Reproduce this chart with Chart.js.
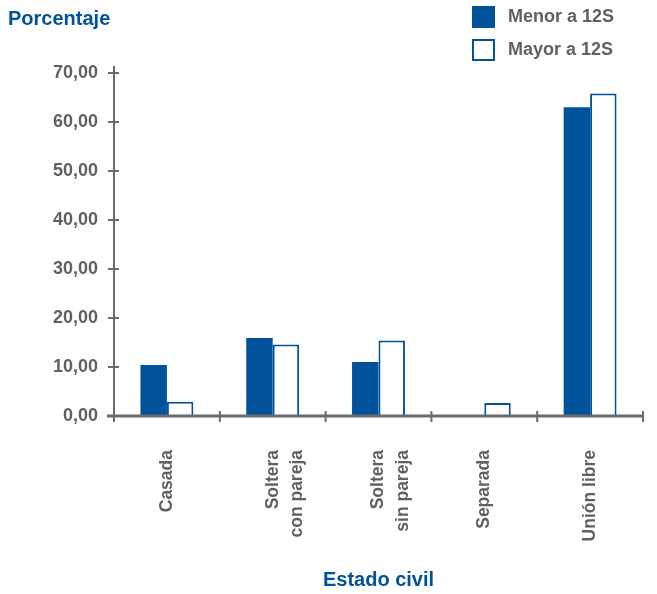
<!DOCTYPE html>
<html lang="es">
<head>
  <meta charset="UTF-8">
  <title>Estado civil</title>
  <script src="https://cdn.jsdelivr.net/npm/chart.js"></script>
  <style>
    body { margin: 0; background: #fff; }
    #wrap { position: relative; width: 657px; height: 594px; }
    #legend { position: absolute; left: 472px; top: 5px; font: bold 18px "Liberation Sans", Arial, sans-serif; color: #606060; }
    .item { display: flex; align-items: center; height: 23px; margin-bottom: 10px; }
    .box { width: 23px; height: 22px; box-sizing: border-box; margin-right: 13px; }
  </style>
</head>
<body>
  <div id="wrap">
    <canvas id="chart" width="657" height="594"></canvas>
    <div id="legend"></div>
  </div>

  <script>
    const categories = ['Casada', ['Soltera', 'con pareja'], ['Soltera', 'sin pareja'], 'Separada', 'Unión libre'];
    const menor = [10.4, 15.9, 11.0, 0, 63.0];
    const mayor = [2.9, 14.6, 15.4, 2.65, 65.8];
    const seriesNames = ['Menor a 12S', 'Mayor a 12S'];
    const yTicks = [0, 10, 20, 30, 40, 50, 60, 70];

    const blue = '#00529b';
    const grey = '#606060';
    const axisGrey = '#6b6b6b';
    const font = '"Liberation Sans", Arial, sans-serif';

    // axis lines with ticks crossing them
    const crossAxes = {
      id: 'crossAxes',
      afterDatasetsDraw(chart) {
        const ctx = chart.ctx;
        const x = chart.scales.x, y = chart.scales.y;
        const x0 = chart.chartArea.left, y0 = chart.chartArea.bottom;
        ctx.save();
        ctx.strokeStyle = axisGrey;
        ctx.lineWidth = 2;
        ctx.beginPath();
        ctx.moveTo(x0, chart.chartArea.top - 7);
        ctx.lineTo(x0, y0 + 2);
        ctx.stroke();
        y.ticks.forEach(t => {
          const py = y.getPixelForValue(t.value);
          ctx.beginPath();
          ctx.moveTo(x0 - 6, py);
          ctx.lineTo(x0 + 5, py);
          ctx.stroke();
        });
        ctx.lineWidth = 3;
        ctx.beginPath();
        ctx.moveTo(x0 - 7, y0);
        ctx.lineTo(chart.chartArea.right, y0);
        ctx.stroke();
        ctx.lineWidth = 2;
        for (let i = 0; i <= categories.length; i++) {
          const px = x.getPixelForValue(i - 0.5);
          ctx.beginPath();
          ctx.moveTo(px, y0 - 5);
          ctx.lineTo(px, y0 + 6);
          ctx.stroke();
        }
        ctx.restore();
      }
    };

    const chart = new Chart(document.getElementById('chart'), {
      type: 'bar',
      data: {
        labels: categories,
        datasets: [{
          label: seriesNames[0],
          data: menor,
          backgroundColor: blue,
          borderWidth: 0
        }, {
          label: seriesNames[1],
          data: mayor,
          backgroundColor: '#ffffff',
          borderColor: blue,
          borderWidth: 2
        }]
      },
      options: {
        responsive: false,
        animation: false,
        events: [],
        layout: { padding: { left: 8, right: 14, top: 0, bottom: 0 } },
        datasets: { bar: { categoryPercentage: 0.5, barPercentage: 1.0 } },
        plugins: {
          legend: { display: false },
          tooltip: { enabled: false },
          title: {
            display: true,
            text: 'Porcentaje',
            align: 'start',
            color: blue,
            font: { family: font, size: 20, weight: 'bold' },
            padding: { top: 7, bottom: 42 }
          }
        },
        scales: {
          x: {
            grid: { display: false },
            border: { display: false },
            ticks: {
              color: grey,
              font: { family: font, size: 17.5, weight: 'bold', lineHeight: 1.4 },
              minRotation: 90,
              maxRotation: 90,
              padding: 26,
              autoSkip: false
            },
            title: {
              display: true,
              text: 'Estado civil',
              color: blue,
              font: { family: font, size: 20, weight: 'bold' },
              padding: { top: 0, bottom: 2 }
            },
            afterFit(scale) { scale.height = 178; }
          },
          y: {
            min: 0,
            max: 70,
            afterBuildTicks(scale) { scale.ticks = yTicks.map(v => ({ value: v })); },
            grid: { display: false },
            border: { display: false },
            ticks: {
              color: grey,
              font: { family: font, size: 18, weight: 'bold' },
              padding: 8,
              callback: v => v.toFixed(2).replace('.', ',')
            },
            afterFit(scale) { scale.width = 106; }
          }
        }
      },
      plugins: [crossAxes]
    });

    // legend built from the chart's datasets
    const legend = document.getElementById('legend');
    chart.data.datasets.forEach(ds => {
      const item = document.createElement('div');
      item.className = 'item';
      const box = document.createElement('span');
      box.className = 'box';
      box.style.background = ds.backgroundColor;
      if (ds.borderWidth) box.style.border = ds.borderWidth + 'px solid ' + ds.borderColor;
      item.appendChild(box);
      item.appendChild(document.createTextNode(ds.label));
      legend.appendChild(item);
    });
  </script>
</body>
</html>
